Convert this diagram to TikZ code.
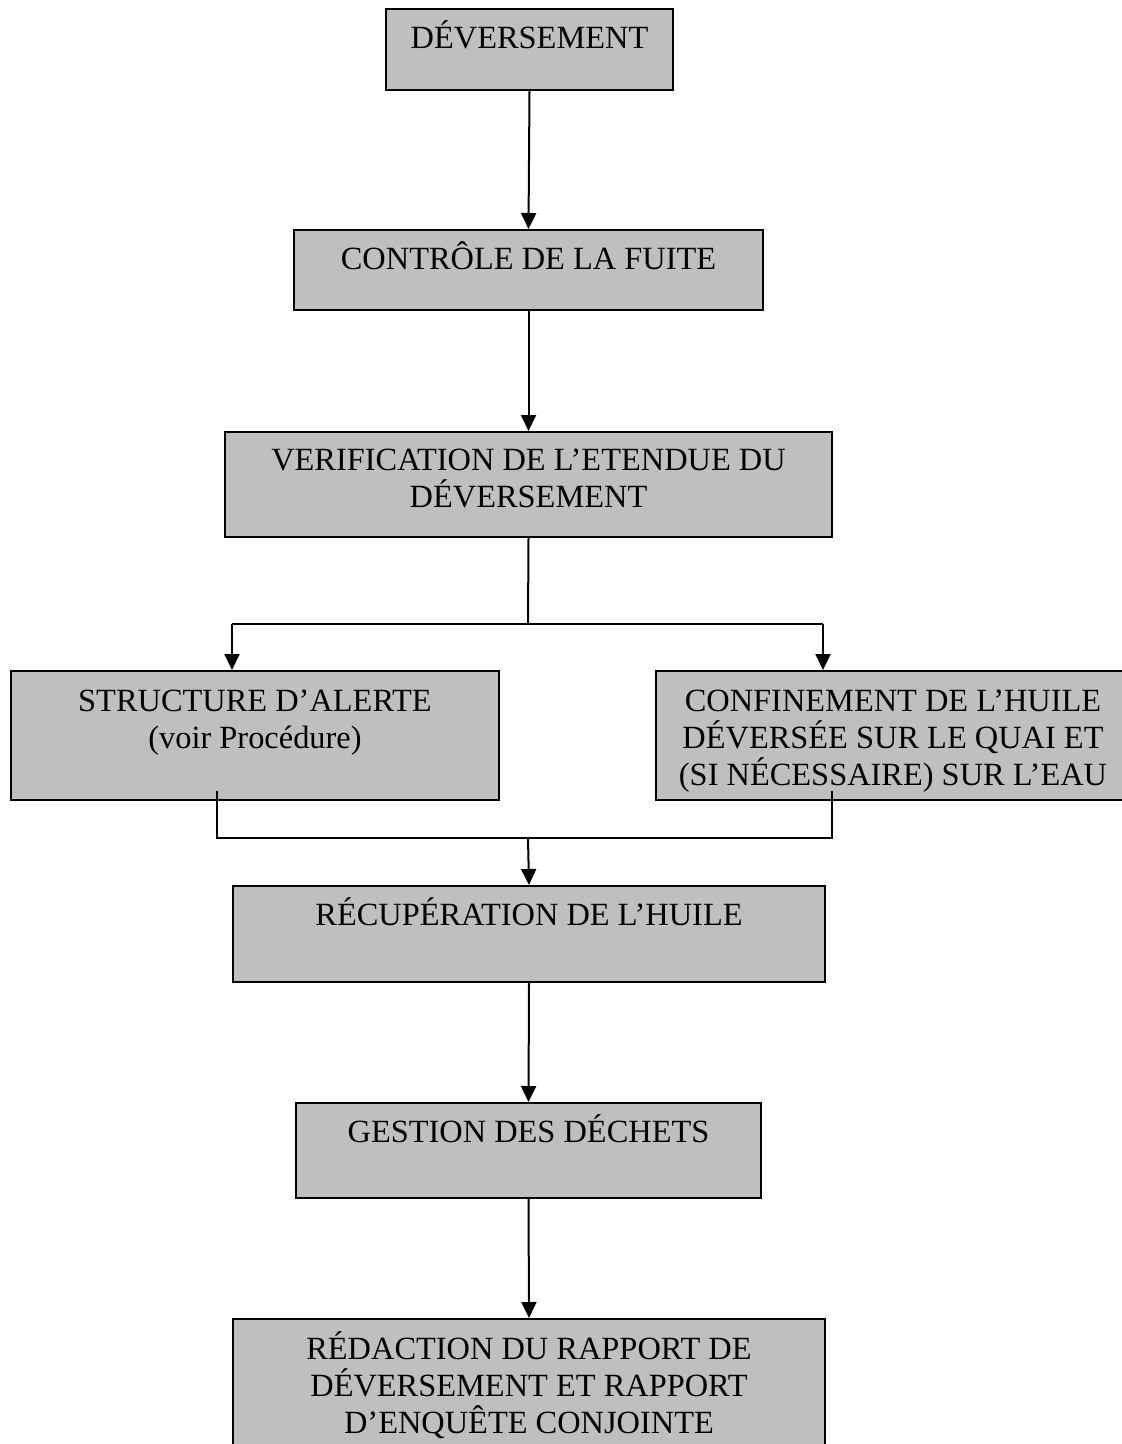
\documentclass[tikz,border=0pt]{standalone}
\usepackage{fontspec}
\setmainfont{Liberation Serif}
\usepackage{xcolor}
\usetikzlibrary{arrows.meta}

\begin{document}
\begin{tikzpicture}[x=0.5pt,y=-0.5pt,
  boite/.style={draw,line width=1pt,fill=gray!50,inner sep=0pt,anchor=north west},
  texte/.style={anchor=north,align=center,inner sep=0pt,font=\fontsize{16.2}{18.5}\selectfont,
    execute at begin node={\rule{0pt}{15pt}}},
  fleche/.style={line width=1pt,-{Triangle[length=8pt,width=7.5pt]}},
  trait/.style={line width=1pt}]
\useasboundingbox(0,0)rectangle(1122,1444);
\clip(0,0)rectangle(1122,1444);
% les boites
\node[boite,minimum width=143.5pt,minimum height=40.5pt](b1)at(385,8){};
\node[boite,minimum width=234.5pt,minimum height=40pt](b2)at(293,229){};
\node[boite,minimum width=303.5pt,minimum height=52.5pt](b3)at(224,431){};
\node[boite,minimum width=244pt,minimum height=64.5pt](b4)at(10,670){};
\node[boite,minimum width=237pt,minimum height=64.5pt](b5)at(655,670){};
\node[boite,minimum width=296pt,minimum height=48pt](b6)at(232,885){};
\node[boite,minimum width=232.5pt,minimum height=47.5pt](b7)at(295,1102){};
\node[boite,minimum width=296pt,minimum height=75pt](b8)at(232,1318){};
% les textes
\node[texte](t1)at([yshift=-5pt]b1.north){DÉVERSEMENT};
\node[texte](t2)at([yshift=-5pt]b2.north){CONTRÔLE DE LA FUITE};
\node[texte](t3)at([yshift=-9pt]b3.north){VERIFICATION DE L’ETENDUE DU\\DÉVERSEMENT};
\node[texte](t4)at([yshift=-10pt]b4.north){STRUCTURE D’ALERTE\\(voir Procédure)};
\node[texte](t5)at([yshift=-10pt]b5.north){CONFINEMENT DE L’HUILE\\DÉVERSÉE SUR LE QUAI ET\\(SI NÉCESSAIRE) SUR L’EAU};
\node[texte](t6)at([yshift=-5pt]b6.north){RÉCUPÉRATION DE L’HUILE};
\node[texte](t7)at([yshift=-5pt]b7.north){GESTION DES DÉCHETS};
\node[texte](t8)at([yshift=-6.5pt]b8.north){RÉDACTION DU RAPPORT DE\\DÉVERSEMENT ET RAPPORT\\D’ENQUÊTE CONJOINTE};
% les fleches
\coordinate(j1)at(528,624);
\coordinate(ga)at(232,624);
\coordinate(da)at(823,624);
\coordinate(gb)at(217,791);
\coordinate(db)at(832,791);
\coordinate(j2)at(528,838);
\draw[fleche](b1.south)--(b2.north);
\draw[fleche](b2.south)--(b3.north);
\draw[trait](b3.south)--(j1);
\draw[trait](ga)--(da);
\draw[fleche](ga)--(ga|-b4.north);
\draw[fleche](da)--(da|-b5.north);
\draw[trait](gb)|-(j2)-|(db);
\draw[fleche](j2)--(b6.north);
\draw[fleche](b6.south)--(b7.north);
\draw[fleche](b7.south)--(b8.north);
\end{tikzpicture}
\end{document}
